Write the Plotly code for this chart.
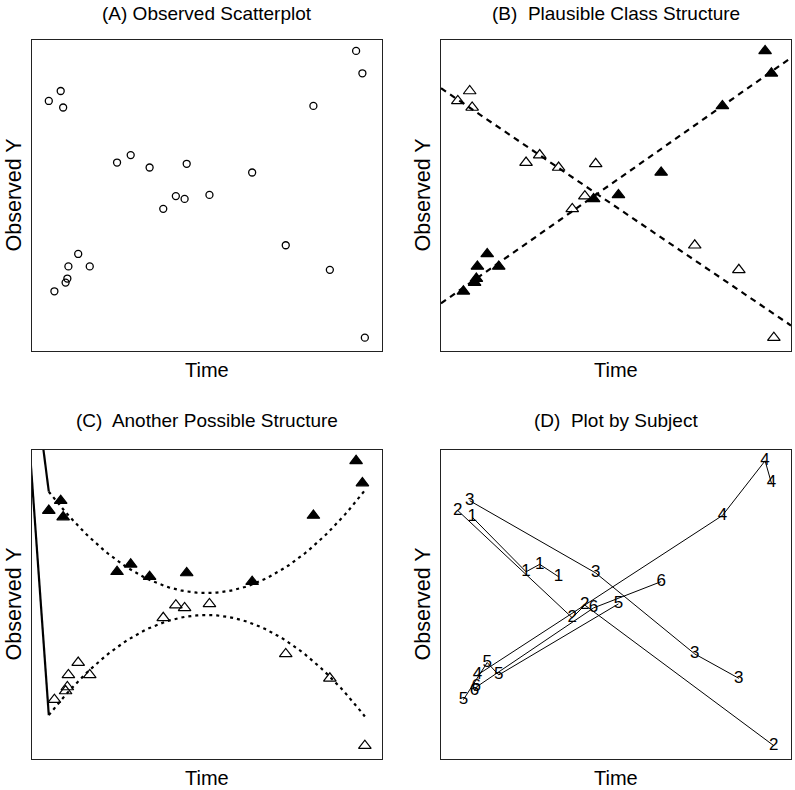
import numpy as np
import plotly.graph_objects as go

# ---- data: 6 subjects x 4 occasions (time, observed Y) ----
subjects = ["1", "2", "3", "4", "5", "6"]
time_s1 = [0.89, 2.43, 2.82, 3.36]
y_s1 = [7.83, 6.06, 6.30, 5.90]
time_s2 = [0.48, 3.75, 4.11, 9.51]
y_s2 = [8.04, 4.57, 4.98, 0.43]
time_s3 = [0.82, 4.42, 7.25, 8.51]
y_s3 = [8.36, 6.02, 3.40, 2.61]
time_s4 = [1.04, 8.04, 9.26, 9.44]
y_s4 = [2.72, 7.88, 9.65, 8.93]
time_s5 = [0.64, 1.32, 1.65, 5.07]
y_s5 = [1.92, 3.12, 2.72, 5.02]
time_s6 = [0.96, 1.01, 4.36, 6.29]
y_s6 = [2.20, 2.33, 4.89, 5.74]

# class membership for panel B (per subject) and panel C (per observation)
class_B = [1, 1, 1, 2, 2, 2]
class_C_s1 = [1, 1, 1, 1]
class_C_s2 = [1, 2, 2, 2]
class_C_s3 = [1, 1, 2, 2]
class_C_s4 = [2, 1, 1, 1]
class_C_s5 = [2, 2, 2, 2]
class_C_s6 = [2, 2, 2, 1]

# panel C class trajectories (quadratic, vertex form: a, vertex time, vertex Y)
curve_upper = [0.162, 4.98, 5.37]
curve_lower = [-0.160, 4.98, 4.66]

# stray solid segments in panel C (far end points, the other end is the curve start)
stray_upper = [0.215, 11.0]
stray_lower = [-0.10, 10.6]

titles = ["(A) Observed Scatterplot", "(B)  Plausible Class Structure",
          "(C)  Another Possible Structure", "(D)  Plot by Subject"]
xlab = "Time"
ylab = "Observed Y"

times = [time_s1, time_s2, time_s3, time_s4, time_s5, time_s6]
ys = [y_s1, y_s2, y_s3, y_s4, y_s5, y_s6]
classC = [class_C_s1, class_C_s2, class_C_s3, class_C_s4, class_C_s5, class_C_s6]

all_t = np.concatenate([np.array(t) for t in times])
all_y = np.concatenate([np.array(y) for y in ys])
cB = np.concatenate([[c] * 4 for c in class_B])
cC = np.concatenate([np.array(c) for c in classC])

FONT = "Liberation Sans, Arial, Helvetica, sans-serif"
fig = go.Figure()

W, H = 795, 790
px = lambda x: x / W
py = lambda y: 1 - y / H
xdoms = [[px(32), px(382)], [px(441), px(791)]]
ydoms = [[py(351), py(40)], [py(759), py(450)]]
title_y = [14, 421]

axes_cfg = dict(showticklabels=False, ticks="", showgrid=False, zeroline=False,
                showline=True, mirror=True, linecolor="#222", linewidth=1,
                range=[0, 10], fixedrange=True)
panels = [(0, 0), (1, 0), (0, 1), (1, 1)]
for i, (c, r) in enumerate(panels):
    n = "" if i == 0 else str(i + 1)
    fig.update_layout(**{
        "xaxis" + n: dict(domain=xdoms[c], anchor="y" + n, **axes_cfg),
        "yaxis" + n: dict(domain=ydoms[r], anchor="x" + n, **axes_cfg),
    })
    cx = (xdoms[c][0] + xdoms[c][1]) / 2
    cy = (ydoms[r][0] + ydoms[r][1]) / 2
    fig.add_annotation(text=titles[i], x=cx, y=py(title_y[r]), xref="paper", yref="paper",
                       showarrow=False, font=dict(family=FONT, size=19, color="black"),
                       xanchor="center", yanchor="middle")
    fig.add_annotation(text=xlab, x=cx, y=ydoms[r][0] - 19 / H, xref="paper", yref="paper",
                       showarrow=False, font=dict(family=FONT, size=20, color="black"),
                       xanchor="center", yanchor="middle")
    fig.add_annotation(text=ylab, x=xdoms[c][0] - 19 / W, y=cy, xref="paper", yref="paper",
                       showarrow=False, textangle=-90,
                       font=dict(family=FONT, size=21.5, color="black"),
                       xanchor="center", yanchor="middle")

# (A) observed scatter
fig.add_trace(go.Scatter(x=all_t, y=all_y, mode="markers", xaxis="x", yaxis="y",
                         marker=dict(symbol="circle-open", size=7, color="black",
                                     line=dict(width=1.3, color="black")),
                         showlegend=False))

# (B) class structure with linear fits
for cls, sym in [(1, "triangle-up-open"), (2, "triangle-up")]:
    m = cB == cls
    fig.add_trace(go.Scatter(x=all_t[m], y=all_y[m], mode="markers", xaxis="x2", yaxis="y2",
                             marker=dict(symbol=sym, size=11, color="black",
                                         line=dict(width=1.2, color="black")),
                             showlegend=False))
    b1, b0 = np.polyfit(all_t[m], all_y[m], 1)
    xx = np.array([0, 10])
    fig.add_trace(go.Scatter(x=xx, y=b0 + b1 * xx, mode="lines", xaxis="x2", yaxis="y2",
                             line=dict(color="black", width=2.2, dash="6px,5px"),
                             showlegend=False))

# (C) another structure with quadratic class trajectories
for cls, sym, curve, stray in [(1, "triangle-up", curve_upper, stray_upper),
                               (2, "triangle-up-open", curve_lower, stray_lower)]:
    m = cC == cls
    fig.add_trace(go.Scatter(x=all_t[m], y=all_y[m], mode="markers", xaxis="x3", yaxis="y3",
                             marker=dict(symbol=sym, size=11, color="black",
                                         line=dict(width=1.2, color="black")),
                             showlegend=False))
    a, h, k = curve
    xx = np.linspace(all_t.min(), all_t.max(), 80)
    yy = a * (xx - h) ** 2 + k
    fig.add_trace(go.Scatter(x=xx, y=yy, mode="lines", xaxis="x3", yaxis="y3",
                             line=dict(color="black", width=2.2, dash="3px,4px"),
                             showlegend=False))
    fig.add_trace(go.Scatter(x=[stray[0], xx[0]], y=[stray[1], yy[0]], mode="lines",
                             xaxis="x3", yaxis="y3",
                             line=dict(color="black", width=2.2), showlegend=False))

# (D) by subject
for s, t, y in zip(subjects, times, ys):
    fig.add_trace(go.Scatter(x=t, y=y, mode="lines+text", text=[s] * len(t),
                             textposition="middle center", xaxis="x4", yaxis="y4",
                             textfont=dict(family=FONT, size=17, color="black"),
                             line=dict(color="black", width=1), showlegend=False))

fig.update_layout(width=W, height=H, margin=dict(l=0, r=0, t=0, b=0),
                  paper_bgcolor="white", plot_bgcolor="white", showlegend=False)
fig.write_html("out.html", config={"displayModeBar": False},
               post_script="document.body.style.margin='0';document.body.style.overflow='hidden';")
